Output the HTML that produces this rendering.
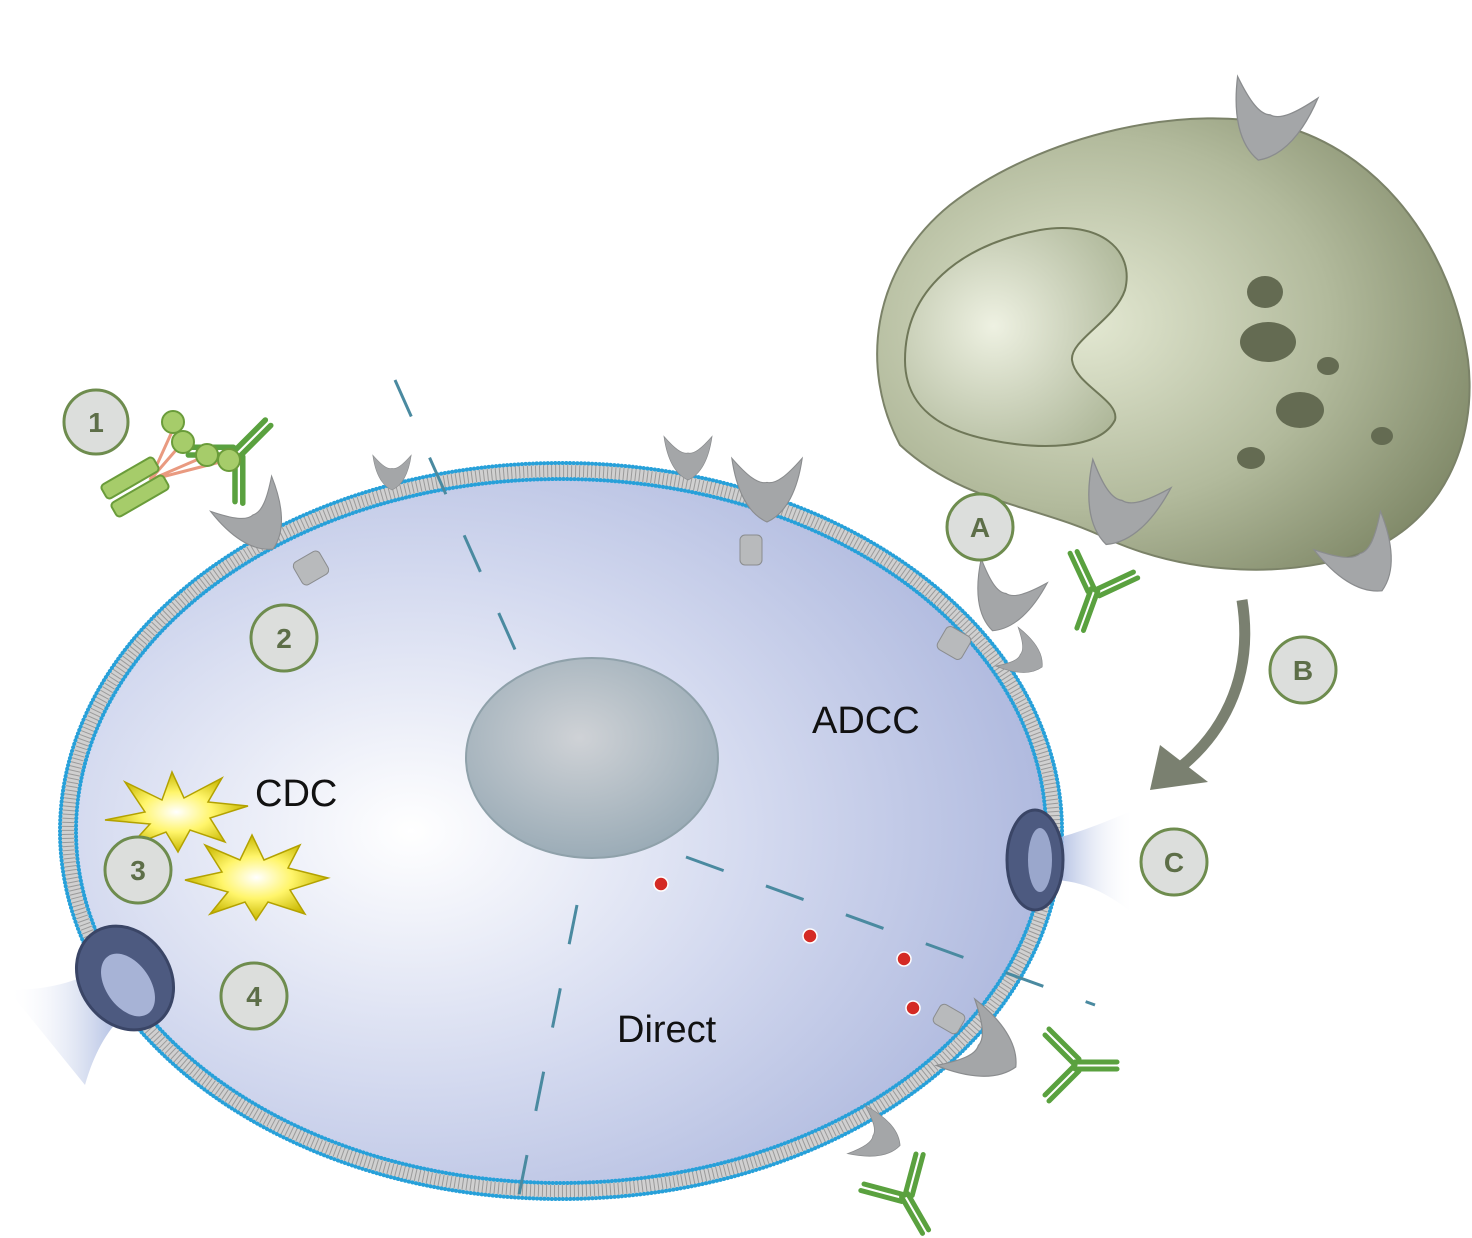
<!DOCTYPE html>
<html><head><meta charset="utf-8"><style>html,body{margin:0;padding:0;background:#fff}svg{display:block}</style></head>
<body>
<svg width="1472" height="1238" viewBox="0 0 1472 1238" xmlns="http://www.w3.org/2000/svg">
<defs>
<radialGradient id="cellg" cx="0.35" cy="0.5" r="0.7">
<stop offset="0" stop-color="#ffffff"/><stop offset="0.5" stop-color="#d3d9ef"/><stop offset="1" stop-color="#a8b3db"/>
</radialGradient>
<radialGradient id="nucg" cx="0.45" cy="0.4" r="0.7">
<stop offset="0" stop-color="#cfd2d6"/><stop offset="1" stop-color="#93a6b2"/>
</radialGradient>
<radialGradient id="blobg" cx="0.35" cy="0.45" r="0.75">
<stop offset="0" stop-color="#e3e8d2"/><stop offset="0.55" stop-color="#b2ba9c"/><stop offset="1" stop-color="#7b8463"/>
</radialGradient>
<radialGradient id="knucg" cx="0.4" cy="0.45" r="0.7">
<stop offset="0" stop-color="#eef1e2"/><stop offset="1" stop-color="#aeb799"/>
</radialGradient>
<radialGradient id="burst" cx="0.5" cy="0.5" r="0.5">
<stop offset="0" stop-color="#ffffff"/><stop offset="0.5" stop-color="#fff56a"/><stop offset="1" stop-color="#c9b800"/>
</radialGradient>
<linearGradient id="funR" x1="0" x2="1"><stop offset="0" stop-color="#9fb0dc"/><stop offset="1" stop-color="#ffffff" stop-opacity="0"/></linearGradient>
<linearGradient id="funL" x1="1" x2="0"><stop offset="0" stop-color="#9fb0dc"/><stop offset="1" stop-color="#ffffff" stop-opacity="0"/></linearGradient>
<g id="rec"><path d="M-32,-38 C-28,-10 -18,12 0,20 C18,12 28,-10 32,-38 C18,-22 8,-14 0,-16 C-8,-14 -18,-22 -32,-38 Z" fill="#a4a6a8" stroke="#8a8c8e" stroke-width="1"/></g>
<g id="ab" fill="none" stroke="#5aa13f" stroke-width="5" stroke-linecap="round">
<path d="M3,0 L3,42 M-4,0 L-4,42"/><path d="M0,0 L-30,-30 M-6,4 L-36,-26"/><path d="M0,0 L30,-30 M6,4 L36,-26"/>
</g>
</defs>

<!-- effector cell -->
<path d="M900,445 C860,370 870,270 950,205 C1040,135 1190,100 1290,128 C1385,158 1452,250 1468,360 C1478,445 1440,520 1370,550 C1290,580 1190,575 1110,540 C1040,505 965,505 900,445 Z" fill="url(#blobg)" stroke="#7b8268" stroke-width="2"/>
<path d="M905,360 C905,290 960,245 1040,230 C1100,220 1135,250 1125,290 C1115,320 1070,340 1072,360 C1075,385 1120,400 1115,420 C1100,450 1040,450 990,440 C930,428 905,400 905,360 Z" fill="url(#knucg)" stroke="#6f7758" stroke-width="2"/>
<g fill="#646b52">
<ellipse cx="1265" cy="292" rx="18" ry="16"/><ellipse cx="1268" cy="342" rx="28" ry="20"/><ellipse cx="1328" cy="366" rx="11" ry="9"/>
<ellipse cx="1300" cy="410" rx="24" ry="18"/><ellipse cx="1251" cy="458" rx="14" ry="11"/><ellipse cx="1382" cy="436" rx="11" ry="9"/>
</g>
<use href="#rec" transform="translate(1265,135) rotate(15) scale(1.3)"/>
<use href="#rec" transform="translate(1370,570) rotate(-30) scale(1.2)"/>
<use href="#rec" transform="translate(1115,520) rotate(20) scale(1.3)"/>

<!-- arrow B -->
<path d="M1242,600 C1255,680 1220,740 1170,775" fill="none" stroke="#7a8070" stroke-width="11"/>
<path d="M1150,790 L1160,745 L1208,782 Z" fill="#7a8070"/>

<!-- target cell -->
<ellipse cx="561" cy="831" rx="499" ry="366" fill="url(#cellg)"/>
<ellipse cx="561" cy="831" rx="493" ry="360" fill="none" stroke="#d0d0d0" stroke-width="14"/>
<ellipse cx="561" cy="831" rx="493" ry="360" fill="none" stroke="#9a9a9a" stroke-width="12" stroke-dasharray="1 3"/>
<ellipse cx="561" cy="831" rx="501" ry="368" fill="none" stroke="#27a0d9" stroke-width="4" stroke-dasharray="0.1 3.6" stroke-linecap="round"/>
<ellipse cx="561" cy="831" rx="485" ry="352" fill="none" stroke="#27a0d9" stroke-width="4" stroke-dasharray="0.1 3.6" stroke-linecap="round"/>

<!-- nucleus -->
<ellipse cx="592" cy="758" rx="126" ry="100" fill="url(#nucg)" stroke="#8fa1aa" stroke-width="2"/>

<!-- dashed lines -->
<g stroke="#4a8aa0" stroke-width="3" fill="none" stroke-dasharray="40 45">
<path d="M395,380 L525,672"/>
<path d="M686,857 L1095,1005"/>
<path d="M577,905 L515,1215"/>
</g>

<!-- red dots -->
<g fill="#d42a24" stroke="#fff" stroke-width="1.5">
<circle cx="661" cy="884" r="7"/><circle cx="810" cy="936" r="7"/><circle cx="904" cy="959" r="7"/><circle cx="913" cy="1008" r="7"/>
</g>

<!-- pores -->
<path d="M1050,840 C1090,830 1120,815 1135,810 L1135,915 C1110,895 1085,880 1050,880 Z" fill="url(#funR)"/>
<ellipse cx="1035" cy="860" rx="28" ry="50" fill="#4d5a80" stroke="#3a4566" stroke-width="3"/>
<ellipse cx="1040" cy="860" rx="12" ry="32" fill="#9aa7cc"/>
<path d="M110,960 C80,985 40,990 8,990 L85,1085 C95,1050 110,1025 130,1010 Z" fill="url(#funL)"/>
<ellipse cx="125" cy="978" rx="45" ry="55" transform="rotate(-35 125 978)" fill="#4d5a80" stroke="#3a4566" stroke-width="3"/>
<ellipse cx="128" cy="985" rx="22" ry="35" transform="rotate(-35 128 985)" fill="#a7b3d6"/>

<!-- receptors on cell -->
<use href="#rec" transform="translate(392,478) scale(0.6)"/>
<use href="#rec" transform="translate(688,465) scale(0.75)"/>
<use href="#rec" transform="translate(767,500) scale(1.1)"/>
<rect x="740" y="535" width="22" height="30" rx="5" fill="#b8babc" stroke="#8a8c8e"/>
<use href="#rec" transform="translate(262,530) rotate(-30) scale(1.1)"/>
<rect x="296" y="555" width="30" height="26" rx="5" transform="rotate(-30 311 568)" fill="#b8babc" stroke="#8a8c8e"/>
<use href="#rec" transform="translate(1000,610) rotate(20) scale(1.1)"/>
<rect x="940" y="630" width="28" height="26" rx="5" transform="rotate(30 954 643)" fill="#b8babc" stroke="#8a8c8e"/>
<use href="#rec" transform="translate(1030,660) rotate(-60) scale(0.7)"/>
<use href="#rec" transform="translate(995,1055) rotate(-60) scale(1.2)"/>
<rect x="935" y="1008" width="28" height="22" rx="5" transform="rotate(30 949 1019)" fill="#b8babc" stroke="#8a8c8e"/>
<use href="#rec" transform="translate(885,1140) rotate(-70) scale(0.8)"/>

<!-- antibodies -->
<use href="#ab" transform="translate(1095,590) rotate(20)"/>
<use href="#ab" transform="translate(1075,1065) rotate(-90)"/>
<use href="#ab" transform="translate(905,1195) rotate(-30)"/>
<use href="#ab" transform="translate(235,455) rotate(-135) scale(1.1)"/>

<!-- complement -->
<g stroke="#e99a80" stroke-width="3"><path d="M150,480 L175,425 M150,480 L183,442 M150,480 L208,455 M150,480 L228,460"/></g>
<g fill="#a6cc6a" stroke="#6a9c3a" stroke-width="2">
<rect x="100" y="470" width="60" height="16" rx="4" transform="rotate(-30 130 478)"/>
<rect x="110" y="488" width="60" height="16" rx="4" transform="rotate(-30 140 496)"/>
<circle cx="173" cy="422" r="11"/><circle cx="183" cy="442" r="11"/><circle cx="207" cy="455" r="11"/><circle cx="229" cy="460" r="11"/>
</g>

<!-- bursts -->
<g fill="url(#burst)" stroke="#b3a200" stroke-width="1.5">
<path d="M105,820 L145,812 L125,782 L162,800 L172,772 L184,798 L222,778 L208,802 L248,806 L210,818 L225,842 L190,830 L178,852 L166,832 L130,846 L150,824 Z"/>
<path d="M185,880 L222,872 L205,845 L240,860 L252,835 L264,860 L300,845 L288,868 L328,878 L290,890 L305,914 L268,902 L256,920 L245,902 L210,914 L228,892 Z"/>
</g>

<!-- labels -->
<g font-family="Liberation Sans, sans-serif" font-size="38" fill="#111">
<text x="812" y="733">ADCC</text>
<text x="255" y="806">CDC</text>
<text x="617" y="1042">Direct</text>
</g>
<g font-family="Liberation Sans, sans-serif" font-size="28" font-weight="bold" fill="#5d6e48" text-anchor="middle">
<g fill="#dcdedc" stroke="#6e8c4e" stroke-width="3">
<circle cx="96" cy="422" r="32"/><circle cx="284" cy="638" r="33"/><circle cx="138" cy="870" r="33"/><circle cx="254" cy="996" r="33"/>
<circle cx="980" cy="527" r="33"/><circle cx="1303" cy="670" r="33"/><circle cx="1174" cy="862" r="33"/>
</g>
<text x="96" y="432">1</text><text x="284" y="648">2</text><text x="138" y="880">3</text><text x="254" y="1006">4</text>
<text x="980" y="537">A</text><text x="1303" y="680">B</text><text x="1174" y="872">C</text>
</g>
</svg>
</body></html>
